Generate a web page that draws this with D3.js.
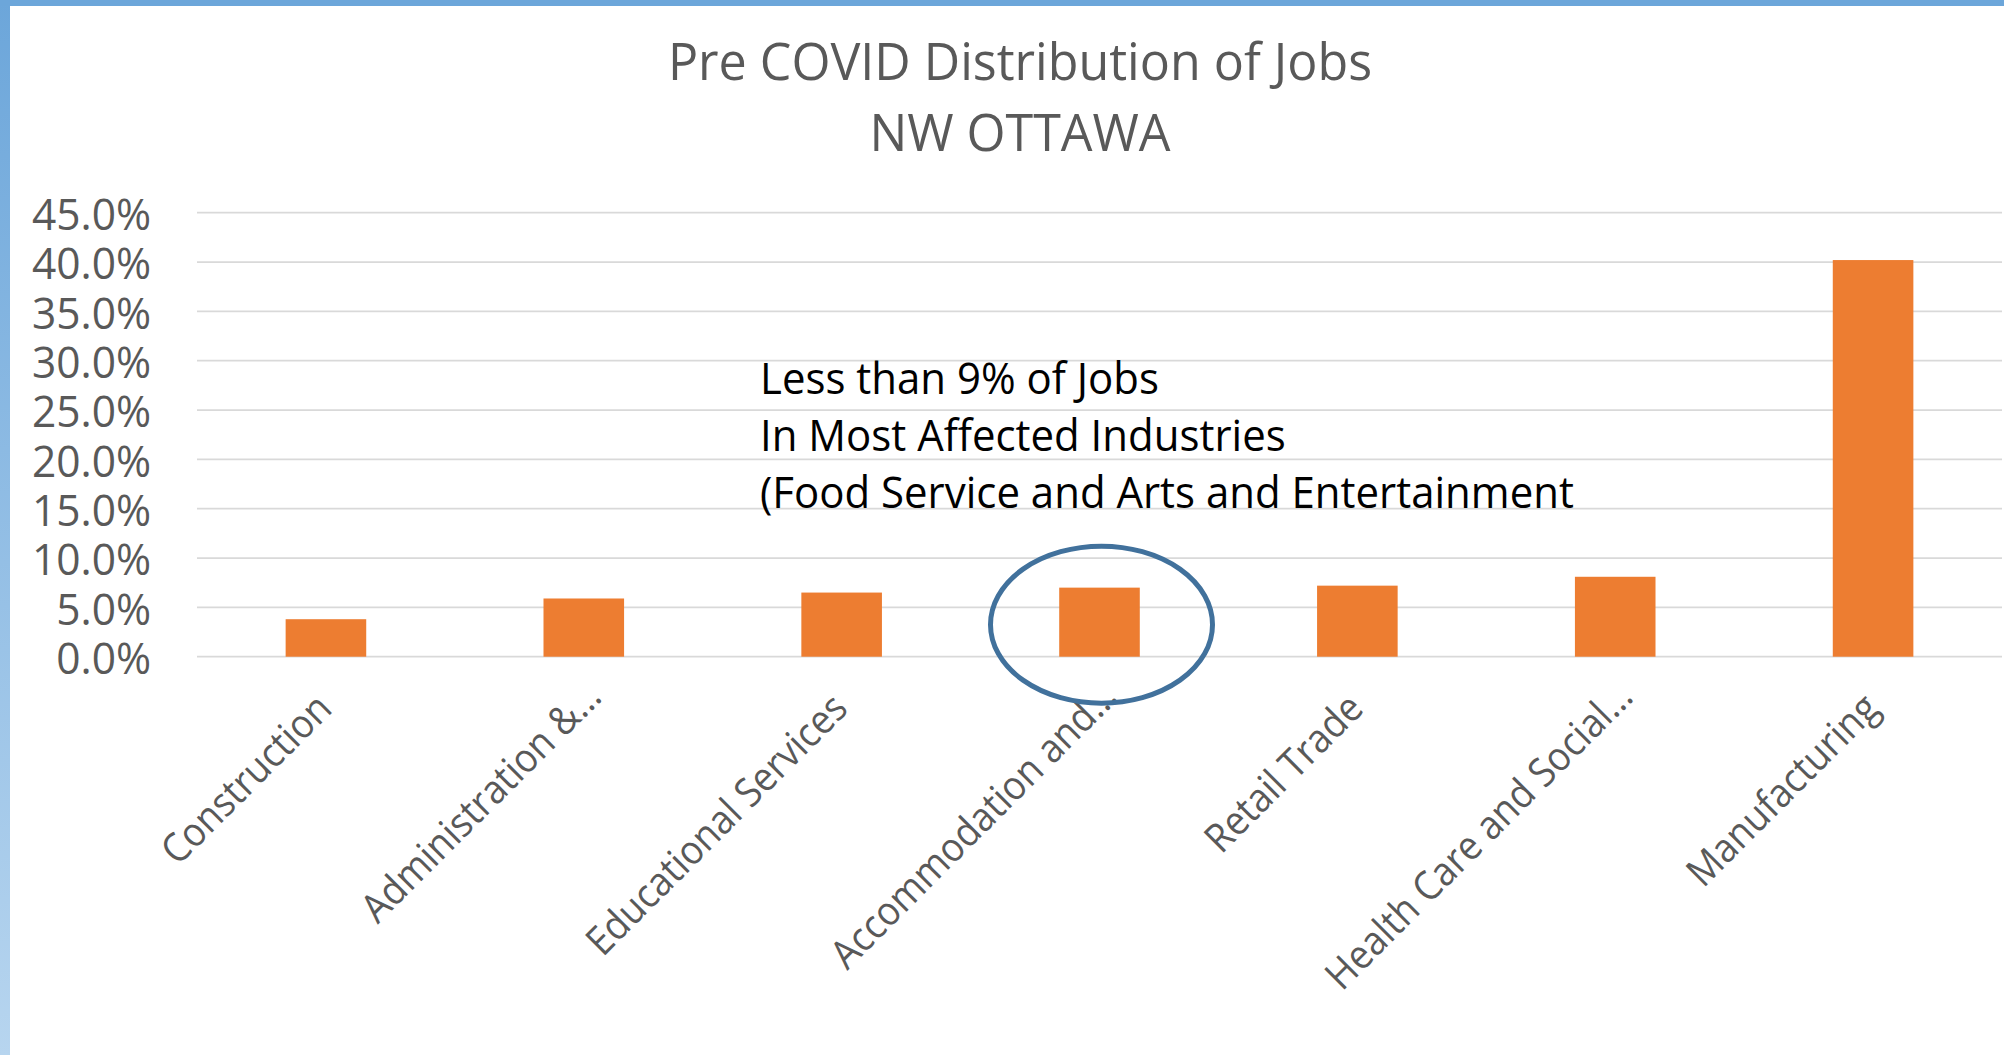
<!DOCTYPE html>
<html>
<head>
<meta charset="utf-8">
<script src="https://cdn.jsdelivr.net/npm/d3@7"></script>
<style>
  html, body { margin: 0; padding: 0; background: #ffffff; }
  svg { display: block; }
  text { font-family: "Open Sans", "Noto Sans", sans-serif; }
</style>
</head>
<body>
<svg id="chart" width="2004" height="1055"></svg>
<script>
// ---- data ----
const categories = [
  "Construction",
  "Administration &\u2026",
  "Educational Services",
  "Accommodation and\u2026",
  "Retail Trade",
  "Health Care and Social\u2026",
  "Manufacturing"
];
const shares = [0.038, 0.059, 0.065, 0.070, 0.072, 0.081, 0.402];
const yTicks = [0, 0.05, 0.10, 0.15, 0.20, 0.25, 0.30, 0.35, 0.40, 0.45];
const titleLines = ["Pre COVID Distribution of Jobs", "NW OTTAWA"];
const noteLines = [
  "Less than 9% of Jobs",
  "In Most Affected Industries",
  "(Food Service and Arts and Entertainment"
];
const highlighted = "Accommodation and\u2026";

// ---- layout ----
const W = 2004, H = 1055;
const plot = { left: 197, right: 2002, top: 212.7, bottom: 656.7 };
const svg = d3.select("#chart");

// frame accents
const defs = svg.append("defs");
const grad = defs.append("linearGradient").attr("id", "leftbar")
  .attr("x1", 0).attr("y1", 0).attr("x2", 0).attr("y2", 1);
grad.append("stop").attr("offset", "0%").attr("stop-color", "#6ca6da");
grad.append("stop").attr("offset", "100%").attr("stop-color", "#b7d5ef");
svg.append("rect").attr("x", 0).attr("y", 0).attr("width", W).attr("height", H).attr("fill", "#ffffff");
svg.append("rect").attr("x", 0).attr("y", 0).attr("width", 10).attr("height", H).attr("fill", "url(#leftbar)");
svg.append("rect").attr("x", 0).attr("y", 0).attr("width", W).attr("height", 6).attr("fill", "#6ca6da");

// scales
const x = d3.scaleBand().domain(categories)
  .range([plot.left, plot.right])
  .paddingInner(0.6875).paddingOuter(0.34375);
const y = d3.scaleLinear().domain([0, 0.45]).range([plot.bottom, plot.top]);

// gridlines
svg.append("g").selectAll("line").data(yTicks).join("line")
  .attr("x1", plot.left).attr("x2", plot.right)
  .attr("y1", d => y(d)).attr("y2", d => y(d))
  .attr("stroke", "#d9d9d9").attr("stroke-width", 1.75);

// y axis labels (via d3 axis)
const yAxis = d3.axisLeft(y).tickValues(yTicks).tickFormat(d3.format(".1%")).tickSize(0).tickPadding(0);
const gy = svg.append("g").attr("transform", "translate(151,0)").call(yAxis);
gy.select(".domain").remove();
gy.selectAll(".tick text")
  .attr("x", 0).attr("dy", null).attr("y", 0)
  .attr("fill", "#595959")
  .attr("font-size", 44)
  .attr("font-family", "Open Sans")
  .attr("text-anchor", "end")
  .attr("dominant-baseline", "central")
  .attr("transform", "scale(0.965,1)");

// bars
svg.append("g").selectAll("rect").data(categories).join("rect")
  .attr("x", d => x(d))
  .attr("y", (d, i) => y(shares[i]))
  .attr("width", x.bandwidth())
  .attr("height", (d, i) => y(0) - y(shares[i]))
  .attr("fill", "#ed7d31");

// x axis labels (via d3 axis)
const xAxis = d3.axisBottom(x).tickSize(0).tickPadding(0);
const gx = svg.append("g").attr("transform", `translate(0,${plot.bottom})`).call(xAxis);
gx.select(".domain").remove();
gx.selectAll(".tick text")
  .attr("y", 0).attr("dy", null)
  .attr("dx", d => d.endsWith("\u2026") ? 18 : 0)
  .attr("fill", "#595959")
  .attr("font-size", 40)
  .attr("font-family", "Open Sans")
  .attr("text-anchor", "end")
  .attr("transform", "translate(8,54) rotate(-45) scale(0.92,1)");

// title
svg.append("g").selectAll("text").data(titleLines).join("text")
  .attr("x", 0).attr("y", 0)
  .attr("transform", (d, i) => `translate(1020,${80 + i * 71}) scale(0.984,1)`)
  .attr("text-anchor", "middle")
  .attr("fill", "#595959")
  .attr("font-size", 51)
  .text(d => d);

// annotation
svg.append("g").selectAll("text").data(noteLines).join("text")
  .attr("x", 0).attr("y", 0)
  .attr("transform", (d, i) => `translate(760,${394 + i * 57}) scale(0.976,1)`)
  .attr("fill", "#000000")
  .attr("font-size", 43)
  .text(d => d);

// highlight ellipse around the accommodation bar
svg.append("ellipse")
  .attr("cx", x(highlighted) + x.bandwidth() / 2 + 2)
  .attr("cy", y(0.0325))
  .attr("rx", 111).attr("ry", 78.5)
  .attr("fill", "none")
  .attr("stroke", "#41719c")
  .attr("stroke-width", 5);
</script>
</body>
</html>
